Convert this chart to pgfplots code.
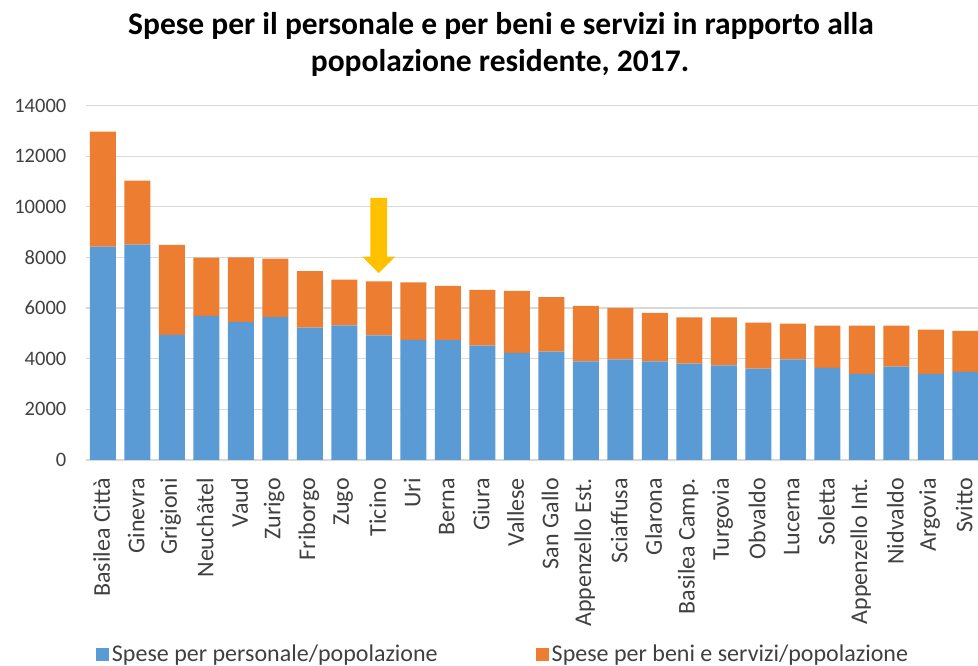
\documentclass[border=0pt]{standalone}
\usepackage{pgfplots}
\pgfplotsset{compat=1.18}
\usepackage{fontspec}
\setmainfont{Carlito}
\definecolor{cblue}{HTML}{5B9BD5}
\definecolor{corange}{HTML}{ED7D31}
\definecolor{cyellow}{HTML}{FFC000}
\definecolor{cgrid}{HTML}{D9D9D9}
\definecolor{ctext}{HTML}{404040}
\begin{document}
\begin{tikzpicture}[x=1pt,y=1pt]
\useasboundingbox (0,0) rectangle (978,666);
\node[anchor=base, font=\fontsize{31.5}{36}\selectfont\bfseries, inner sep=0pt] at (501,631) {Spese per il personale e per beni e servizi in rapporto alla};
\node[anchor=base, font=\fontsize{31.5}{36}\selectfont\bfseries, inner sep=0pt] at (500,594) {popolazione residente, 2017.};
\begin{axis}[
  at={(85.5pt,206pt)}, anchor=south west,
  width=897pt, height=354.5pt, scale only axis,
  ybar stacked, bar width=26pt,
  xmin=-0.5, xmax=25.5, ymin=0, ymax=14000,
  enlargelimits=false,
  ytick={0,2000,...,14000},
  scaled y ticks=false,
  xtick={0,...,25},
  xticklabels={Basilea Città,Ginevra,Grigioni,Neuchâtel,Vaud,Zurigo,Friborgo,Zugo,Ticino,Uri,Berna,Giura,Vallese,San Gallo,Appenzello Est.,Sciaffusa,Glarona,Basilea Camp.,Turgovia,Obvaldo,Lucerna,Soletta,Appenzello Int.,Nidvaldo,Argovia,Svitto},
  ymajorgrids, grid style={cgrid, line width=1.2pt},
  axis lines*=left,
  x axis line style={cgrid, line width=1.2pt},
  y axis line style={draw=none},
  major tick length=0pt,
  tick style={draw=none},
  /pgf/number format/1000 sep={},
  /pgf/number format/assume math mode=true,
  xticklabel style={font=\fontsize{24}{28}\selectfont, text=ctext, yshift=-18pt, xshift=-1pt, rotate=90, anchor=east, inner sep=0pt},
  yticklabel style={font=\fontsize{20.5}{24}\selectfont, text=ctext, anchor=east, inner sep=0pt, xshift=-19pt},
  legend style={draw=none, fill=none, at={(rel axis cs:0.012,-0.548)}, anchor=west,
    legend columns=2, inner sep=0pt, font=\fontsize{24}{28}\selectfont, text=ctext,
    nodes={inner sep=2.5pt},
    /tikz/every even column/.append style={column sep=96pt}},
  legend image code/.code={\fill[#1] (0pt,-6.5pt) rectangle (13pt,6.5pt);},
  clip=false,
]
\addplot[fill=cblue, draw=none] coordinates {
(0,8430) (1,8507) (2,4940) (3,5690) (4,5440) (5,5640) (6,5230) (7,5320) (8,4925) (9,4740) (10,4730) (11,4517) (12,4228) (13,4280) (14,3898) (15,3977) (16,3898) (17,3806) (18,3740) (19,3608) (20,3977) (21,3635) (22,3398) (23,3688) (24,3398) (25,3477)};
\addplot[fill=corange, draw=none] coordinates {
(0,4540) (1,2528) (2,3555) (3,2305) (4,2560) (5,2315) (6,2225) (7,1805) (8,2125) (9,2270) (10,2145) (11,2200) (12,2450) (13,2148) (14,2187) (15,2028) (16,1910) (17,1830) (18,1896) (19,1817) (20,1408) (21,1671) (22,1908) (23,1618) (24,1750) (25,1619)};
\legend{Spese per personale/popolazione, Spese per beni e servizi/popolazione}
\fill[cyellow] (axis cs:7.76,10352) -- (axis cs:8.24,10352) -- (axis cs:8.24,8032) -- (axis cs:8.48,8032) -- (axis cs:8,7377) -- (axis cs:7.52,8032) -- (axis cs:7.76,8032) -- cycle;
\end{axis}
\end{tikzpicture}
\end{document}
